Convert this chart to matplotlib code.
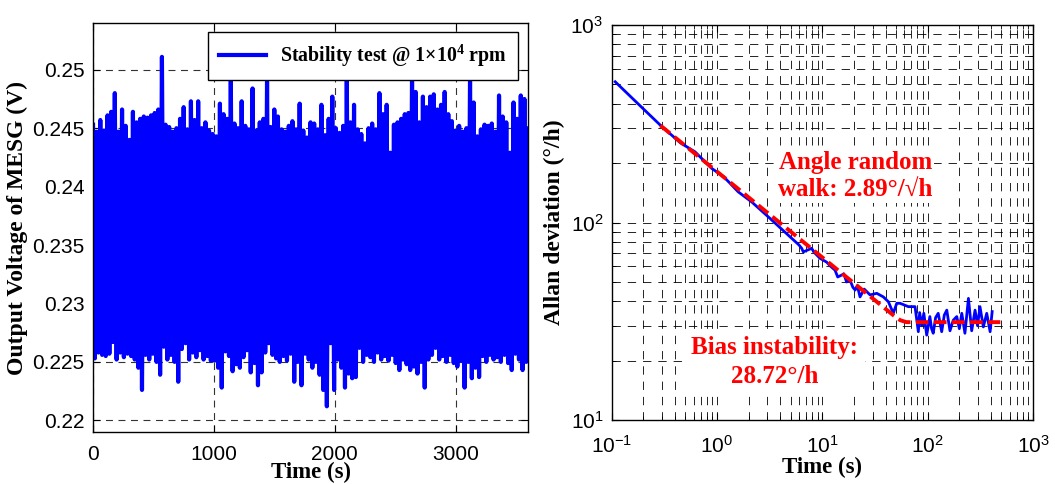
import matplotlib
matplotlib.use("Agg")
import matplotlib.pyplot as plt
import numpy as np

plt.rcParams['font.family'] = ['Liberation Sans', 'DejaVu Sans']
plt.rcParams['mathtext.default'] = 'regular'
plt.rcParams['lines.scale_dashes'] = False

# ---- left panel: output voltage, envelope read every 30 s ----
step_s = 30
upper_v = [
    0.2453, 0.2447, 0.2457, 0.2448, 0.2461, 0.2464, 0.2480, 0.2447, 0.2466, 0.2452,
    0.2440, 0.2464, 0.2455, 0.2458, 0.2460, 0.2459, 0.2461, 0.2463, 0.2466, 0.2511,
    0.2453, 0.2451, 0.2447, 0.2450, 0.2458, 0.2468, 0.2449, 0.2473, 0.2457, 0.2473,
    0.2450, 0.2455, 0.2448, 0.2445, 0.2443, 0.2471, 0.2462, 0.2458, 0.2495, 0.2454,
    0.2450, 0.2473, 0.2452, 0.2449, 0.2484, 0.2448, 0.2455, 0.2458, 0.2490, 0.2451,
    0.2466, 0.2460, 0.2449, 0.2447, 0.2452, 0.2456, 0.2449, 0.2471, 0.2448, 0.2442,
    0.2455, 0.2454, 0.2449, 0.2470, 0.2444, 0.2458, 0.2477, 0.2450, 0.2446, 0.2452,
    0.2494, 0.2455, 0.2470, 0.2449, 0.2445, 0.2437, 0.2450, 0.2454, 0.2449, 0.2480,
    0.2462, 0.2470, 0.2429, 0.2453, 0.2455, 0.2458, 0.2462, 0.2463, 0.2495, 0.2481,
    0.2455, 0.2477, 0.2468, 0.2477, 0.2479, 0.2466, 0.2470, 0.2481, 0.2462, 0.2456,
    0.2448, 0.2452, 0.2447, 0.2450, 0.2494, 0.2472, 0.2443, 0.2449, 0.2453, 0.2452,
    0.2454, 0.2447, 0.2478, 0.2460, 0.2455, 0.2429, 0.2472, 0.2458, 0.2478, 0.2475,
    0.2450,
]
lower_v = [
    0.2253, 0.2258, 0.2256, 0.2255, 0.2257, 0.2267, 0.2252, 0.2258, 0.2254, 0.2257,
    0.2255, 0.2252, 0.2245, 0.2226, 0.2256, 0.2252, 0.2257, 0.2250, 0.2239, 0.2263,
    0.2252, 0.2256, 0.2250, 0.2233, 0.2261, 0.2266, 0.2252, 0.2258, 0.2254, 0.2260,
    0.2252, 0.2255, 0.2251, 0.2251, 0.2245, 0.2228, 0.2259, 0.2255, 0.2242, 0.2248,
    0.2245, 0.2254, 0.2260, 0.2241, 0.2249, 0.2230, 0.2241, 0.2258, 0.2266, 0.2256,
    0.2253, 0.2250, 0.2255, 0.2251, 0.2257, 0.2233, 0.2250, 0.2230, 0.2257, 0.2252,
    0.2245, 0.2250, 0.2239, 0.2226, 0.2212, 0.2266, 0.2226, 0.2252, 0.2245, 0.2228,
    0.2240, 0.2236, 0.2237, 0.2262, 0.2250, 0.2256, 0.2254, 0.2250, 0.2258, 0.2252,
    0.2255, 0.2251, 0.2256, 0.2249, 0.2243, 0.2252, 0.2248, 0.2243, 0.2246, 0.2240,
    0.2250, 0.2228, 0.2252, 0.2256, 0.2262, 0.2252, 0.2255, 0.2250, 0.2256, 0.2249,
    0.2246, 0.2251, 0.2228, 0.2250, 0.2236, 0.2245, 0.2237, 0.2255, 0.2250, 0.2256,
    0.2252, 0.2254, 0.2250, 0.2256, 0.2249, 0.2243, 0.2257, 0.2252, 0.2243, 0.2250,
    0.2255,
]
volt_ticks = [0.22, 0.225, 0.23, 0.235, 0.24, 0.245, 0.25]
time_ticks = [0, 1000, 2000, 3000]

# ---- right panel: Allan deviation ----
tau = [0.108, 0.2, 0.288, 0.45, 0.618, 0.89, 1.15, 1.33, 1.59, 2.14, 3.18, 4.93,
       6.0, 6.37, 6.6, 7.9, 8.5, 9.5, 11, 12, 13.2, 14, 15.3, 16, 17, 18.3, 19.5,
       20.5, 21.5, 22.8, 25, 28.4, 32.9, 38, 42.4, 47.2, 50.9, 54.7, 65.6, 75.9,
       81.6, 84, 87.9, 92, 98, 105, 109, 113, 119, 126, 136, 144, 152, 163, 175, 189,
       200, 211, 226, 244, 262, 282, 298, 314, 338, 364, 392, 410]
adev = [516, 376, 312, 253, 228, 188, 171, 158, 143, 127, 105, 84.7,
        77, 74, 71, 74, 70, 65.9, 63, 60, 57.4, 53, 54.2, 55, 50, 51.2, 47,
        45.5, 48, 42, 46, 43, 43.8, 42, 39.7, 34.7, 39, 39, 37.5, 37.5,
        28, 35, 30, 34.7, 26.9, 33.4, 29, 27.5, 33, 34.7, 28, 34, 36, 28.3, 32, 33.4,
        29, 34.7, 27.5, 41.3, 28.3, 36, 30, 37.5, 29.6, 34.7, 28, 35.4]
fit_tau = [0.29, 47, 55, 63, 490]
fit_adev = [310, 34, 32, 31.3, 31.3]

fig = plt.figure(figsize=(10.55, 4.84), dpi=100)
ax1 = fig.add_axes([0.0882, 0.1074, 0.4123, 0.8451])
ax2 = fig.add_axes([0.5798, 0.1322, 0.3993, 0.8161])

# zigzag between upper and lower envelope -> dense noise band
t = np.arange(len(upper_v)) * step_s
xs = np.column_stack([t, t + step_s / 2]).ravel()
ys = np.column_stack([upper_v, lower_v]).ravel()
ax1.plot(xs, ys, color='#0000ff', lw=3.0, label='Stability test @ 1×10$^4$ rpm')
ax1.set_xlim(0, 3600)
ax1.set_ylim(0.219, 0.254)
ax1.set_xticks(time_ticks)
ax1.set_yticks(volt_ticks)
ax1.set_yticklabels(['%g' % v for v in volt_ticks])
ax1.grid(True, ls=(0, (5, 4)), color='#333333', lw=0.8)
ax1.set_xlabel('Time (s)', family='Liberation Serif', weight='bold', fontsize=16.5, labelpad=-1)
ax1.set_ylabel('Output Voltage of MESG (V)', family='Liberation Serif', weight='bold',
               fontsize=17, labelpad=3)
leg = ax1.legend(loc='upper right', bbox_to_anchor=(0.977, 0.978), borderaxespad=0,
                 fancybox=False, framealpha=1, edgecolor='k', handlelength=2.4,
                 borderpad=0.55, handletextpad=0.7,
                 prop={'family': 'Liberation Serif', 'weight': 'bold', 'size': 14.3})
leg.get_frame().set_linewidth(1.0)

ax2.loglog(tau, adev, color='#0000ff', lw=2, zorder=3)
ax2.loglog(fit_tau, fit_adev, color='#ff0000', lw=2.8, ls=(0, (9, 4)), zorder=4)
ax2.set_xlim(0.1, 1000)
ax2.set_ylim(10, 1000)
ax2.grid(True, which='both', ls=(0, (6, 5)), color='k', lw=0.6)
ax2.set_xlabel('Time (s)', family='Liberation Serif', weight='bold', fontsize=16.5, labelpad=0)
ax2.set_ylabel('Allan deviation (°/h)', family='Liberation Serif', weight='bold',
               fontsize=17, labelpad=4)
ax2.text(20.5, 172, 'Angle random\nwalk: 2.89°/√h', color='#ff0000', ha='center', va='center',
         family=['Liberation Serif', 'DejaVu Serif'], weight='bold', fontsize=18,
         linespacing=1.25, zorder=5,
         bbox=dict(facecolor='white', edgecolor='none', pad=1))
ax2.text(3.5, 19.7, 'Bias instability:\n28.72°/h', color='#ff0000', ha='center', va='center',
         family='Liberation Serif', weight='bold', fontsize=18, linespacing=1.3, zorder=5,
         bbox=dict(facecolor='white', edgecolor='none', pad=5))

for ax in (ax1, ax2):
    ax.tick_params(which='both', direction='in', top=True, right=True, labelsize=15)
    ax.tick_params(which='major', length=5)
    ax.tick_params(which='minor', length=3)
    for s in ax.spines.values():
        s.set_linewidth(1.0)
ax1.tick_params(axis='x', pad=9)
ax1.tick_params(axis='y', pad=6)
ax2.tick_params(axis='x', which='both', pad=11)
ax2.tick_params(axis='y', which='both', pad=6)

fig.savefig('out.png', dpi=100)
